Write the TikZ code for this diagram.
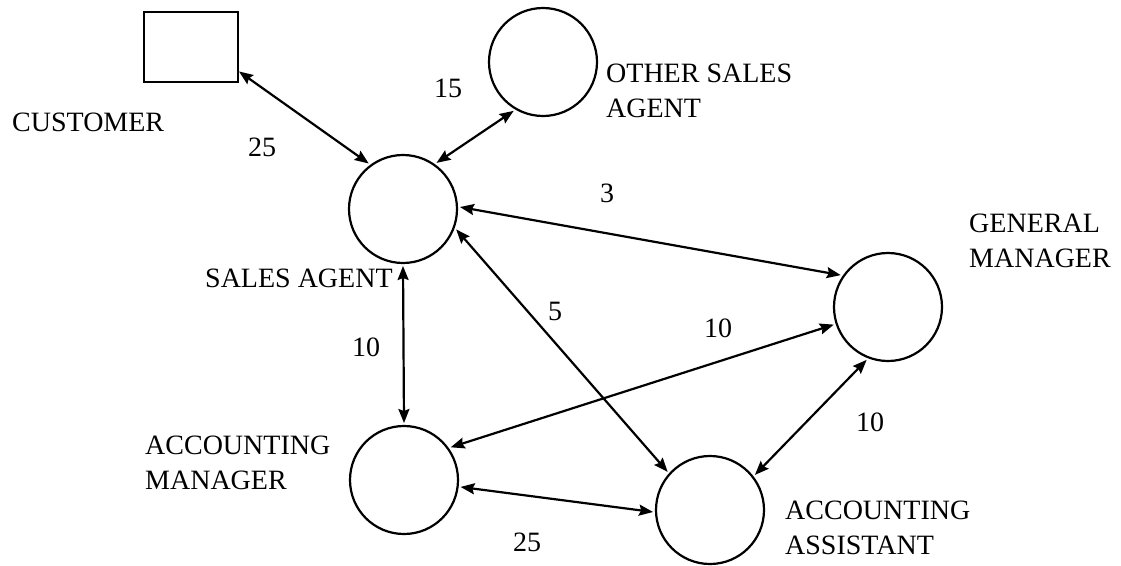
\documentclass[tikz,border=0pt]{standalone}
\usepackage{fontspec}
\setmainfont{Liberation Serif}
\usetikzlibrary{arrows.meta}
\begin{document}
\begin{tikzpicture}[x=1pt,y=-1pt,
  agent/.style={draw, circle, line width=2.2pt, minimum size=108pt, inner sep=0pt, outer sep=3pt},
  party/.style={draw, rectangle, line width=2.2pt, minimum width=94pt, minimum height=70pt, inner sep=0pt, outer sep=1pt},
  caption/.style={font=\fontsize{28}{35}\selectfont, inner sep=0pt, align=left, anchor=north west},
  weight/.style={font=\fontsize{28}{35}\selectfont, inner sep=0pt},
  link/.style={line width=2.2pt, {Stealth[length=14pt,width=11pt,inset=2pt]}-{Stealth[length=14pt,width=11pt,inset=2pt]}}]
\useasboundingbox (0,0) rectangle (1121,565);

% actors
\node[party] (cust) at (191,47) {};
\node[agent] (osa) at (543,62) {};
\node[agent] (sa)  at (403,209) {};
\node[agent] (gm)  at (888,307) {};
\node[agent] (am)  at (404,480) {};
\node[agent] (aa)  at (710,510) {};

% names
\node[caption] (custname) at (12,113) {CUSTOMER};
\node[caption] (osaname) at (606,64) {OTHER SALES\\AGENT};
\node[caption] (saname) at (205,269) {SALES AGENT};
\node[caption] (gmname) at (969,214) {GENERAL\\MANAGER};
\node[caption] (amname) at (145,436) {ACCOUNTING\\MANAGER};
\node[caption] (aaname) at (785,501) {ACCOUNTING\\ASSISTANT};

% communication links
\draw[link] (cust.-27) -- (sa.127);
\draw[link] (osa.239) -- (sa.54);
\draw[link] (sa.2) -- (gm.146);
\draw[link] (sa.-21) -- (aa.138);
\draw[link] (sa.south) -- (am.north);
\draw[link] (am.35) -- (gm.198);
\draw[link] (gm.248) -- (aa.38);
\draw[link] (am.-7) -- (aa.182);

% contact counts
\node[weight] (w1) at (262,147) {25};
\node[weight] (w2) at (448,88) {15};
\node[weight] (w3) at (607,193) {3};
\node[weight] (w4) at (366,347) {10};
\node[weight] (w5) at (555,311) {5};
\node[weight] (w6) at (718,328) {10};
\node[weight] (w7) at (870,422) {10};
\node[weight] (w8) at (527,542) {25};
\end{tikzpicture}
\end{document}
